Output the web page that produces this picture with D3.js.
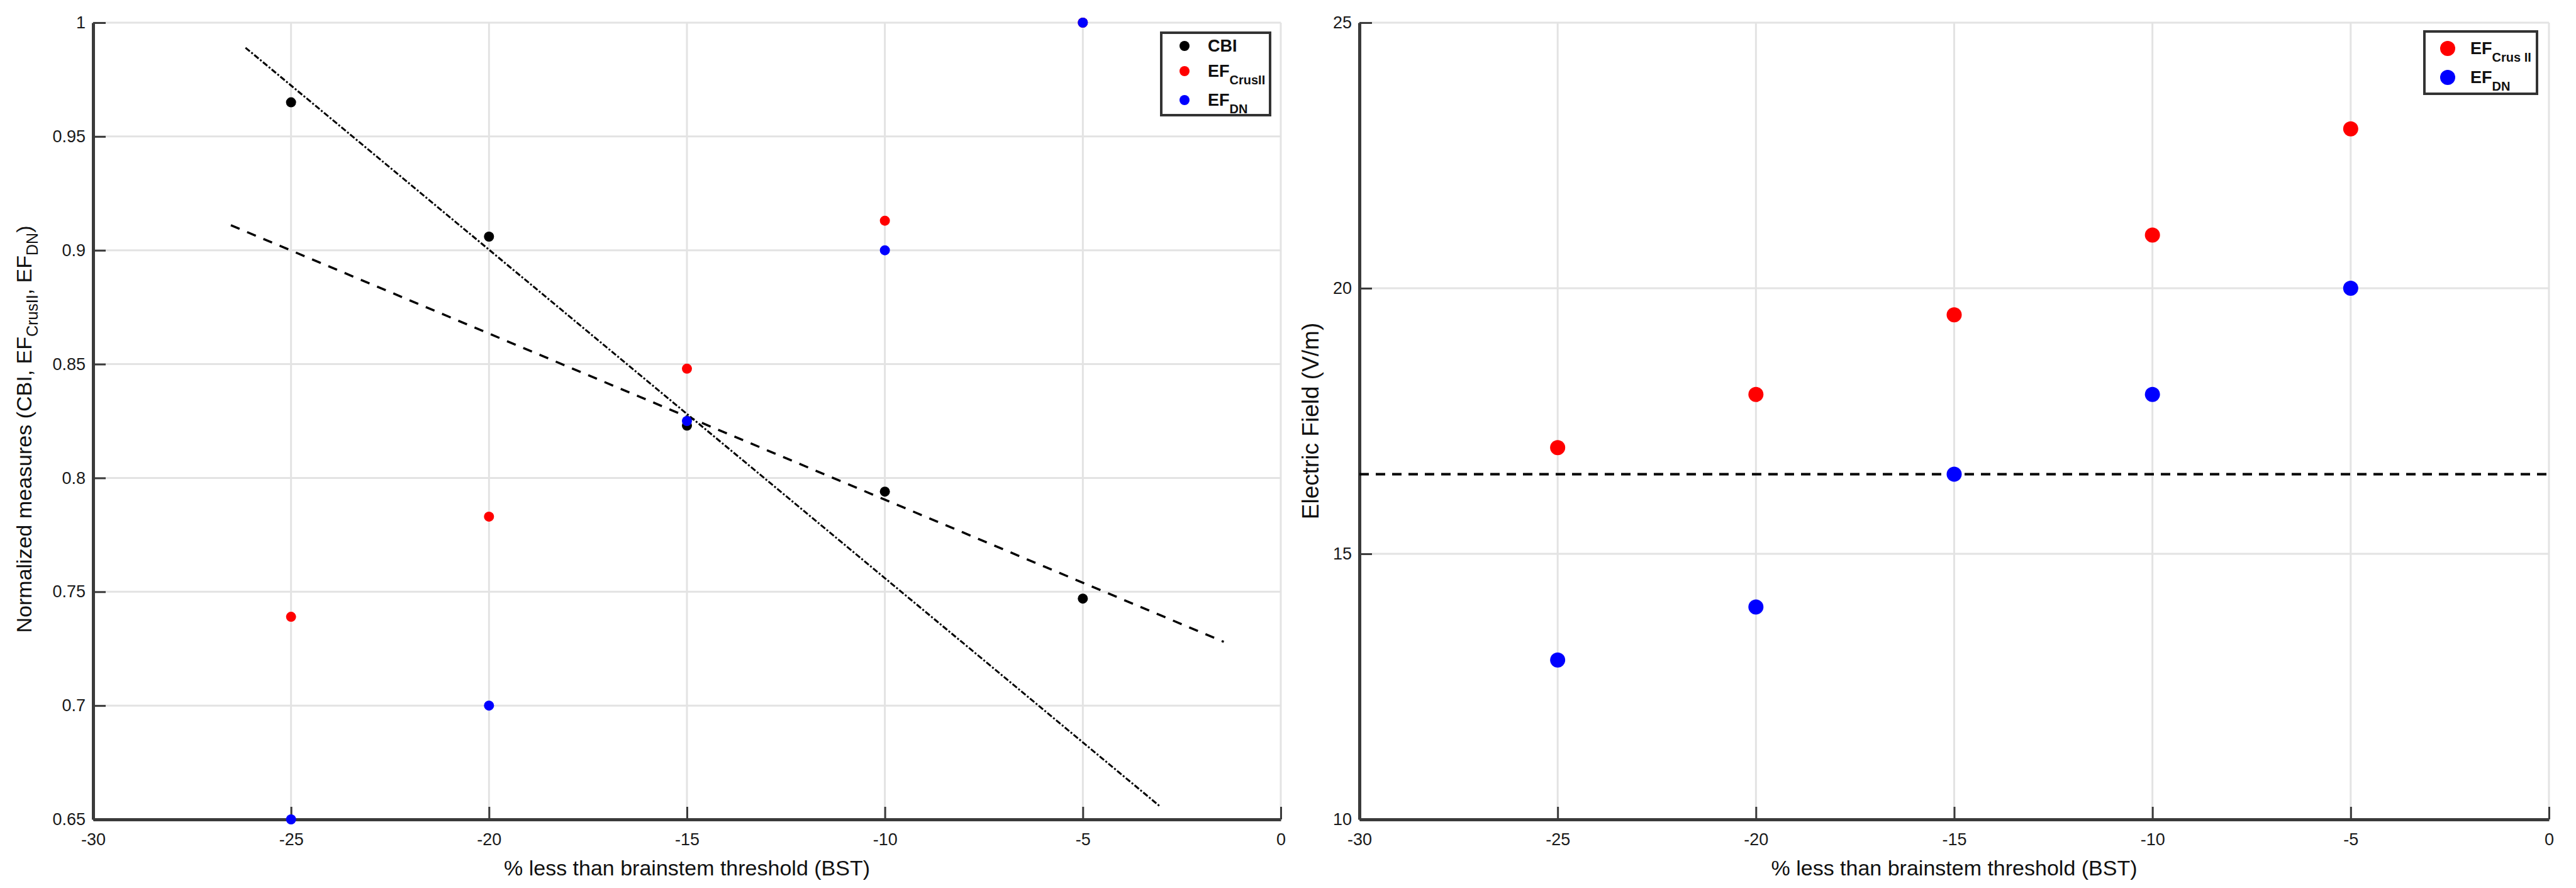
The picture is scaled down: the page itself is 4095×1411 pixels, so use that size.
<!DOCTYPE html>
<html>
<head>
<meta charset="utf-8">
<script src="https://cdn.jsdelivr.net/npm/d3@7"></script>
<style>
body { margin: 0; background: #fff; }
svg text { font-family: "Liberation Sans Narrow", "Arial Narrow", "Liberation Sans", sans-serif; }
</style>
</head>
<body>
<svg id="plotSvg" width="4095" height="1411"></svg>
<script>
// % less than brainstem threshold
var bstLevels = [-25, -20, -15, -10, -5];

// left panel (normalized)
var cbi = [0.965, 0.906, 0.823, 0.794, 0.747];
var efCrusIINorm = [0.739, 0.783, 0.848, 0.913, 1.0];
var efDNNorm = [0.65, 0.70, 0.825, 0.90, 1.0];
var fitLineX = [-26.15, -3.07];
var fitLineY = [0.989, 0.656];
var fitDashX = [-26.52, -1.44];
var fitDashY = [0.911, 0.728];

// right panel (V/m)
var efCrusII = [17, 18, 19.5, 21, 23];
var efDN = [13, 14, 16.5, 18, 20];
var thresholdX = [-30, 0];
var thresholdY = [16.5, 16.5];

var xTicks = [-30, -25, -20, -15, -10, -5, 0];
var leftYTicks = [0.65, 0.7, 0.75, 0.8, 0.85, 0.9, 0.95, 1];
var rightYTicks = [10, 15, 20, 25];

var svg = d3.select("#plotSvg");
var fmt = function (d) { return String(+d.toFixed(2)); };

function zip(xs, ys) {
    return xs.map(function (v, i) { return [v, ys[i]]; });
}

function drawPanel(p) {
    var x = d3.scaleLinear().domain([-30, 0]).range([p.left, p.right]);
    var y = d3.scaleLinear().domain(p.yDomain).range([p.bottom, p.top]);
    var g = svg.append("g");

    // grid
    g.append("g").selectAll("line")
        .data(xTicks.slice(1))
        .enter().append("line")
        .attr("x1", function (d) { return x(d); })
        .attr("x2", function (d) { return x(d); })
        .attr("y1", p.top).attr("y2", p.bottom)
        .attr("stroke", "#e3e3e3").attr("stroke-width", 3);
    g.append("g").selectAll("line")
        .data(p.yTicks.slice(1))
        .enter().append("line")
        .attr("y1", function (d) { return y(d); })
        .attr("y2", function (d) { return y(d); })
        .attr("x1", p.left).attr("x2", p.right)
        .attr("stroke", "#e3e3e3").attr("stroke-width", 3);

    var xAxis = d3.axisBottom(x).tickValues(xTicks).tickSize(-20).tickSizeOuter(0)
        .tickPadding(22).tickFormat(fmt);
    var yAxis = d3.axisLeft(y).tickValues(p.yTicks).tickSize(-20).tickSizeOuter(0)
        .tickPadding(12).tickFormat(fmt);

    var ax = [
        g.append("g").attr("transform", "translate(0," + p.bottom + ")").call(xAxis),
        g.append("g").attr("transform", "translate(" + p.left + ",0)").call(yAxis)
    ];
    ax.forEach(function (a) {
        a.select(".domain").attr("stroke", "#3a3a3a").attr("stroke-width", 5);
        a.selectAll(".tick line").attr("stroke", "#3a3a3a").attr("stroke-width", 3);
        a.selectAll(".tick text").attr("font-size", 27).attr("fill", "#1a1a1a")
            .attr("font-family", "Liberation Sans Narrow, Arial Narrow, sans-serif");
    });

    // x label
    g.append("text")
        .attr("x", (p.left + p.right) / 2)
        .attr("y", 1391)
        .attr("text-anchor", "middle")
        .attr("font-size", 34)
        .attr("fill", "#111")
        .text("% less than brainstem threshold (BST)");

    // y label
    var yl = g.append("text")
        .attr("transform", "translate(" + p.yLabelX + "," + p.yLabelY + ") rotate(-90)")
        .attr("text-anchor", "middle")
        .attr("font-size", p.yLabelSize)
        .attr("fill", "#111");
    p.yLabel.forEach(function (part) {
        yl.append("tspan")
            .attr("font-size", part.sub ? Math.round(p.yLabelSize * 0.73) : p.yLabelSize)
            .attr("dy", part.dy || 0)
            .text(part.t);
    });

    return { g: g, x: x, y: y };
}

function drawDots(panel, xs, ys, color, r) {
    panel.g.append("g").selectAll("circle")
        .data(zip(xs, ys))
        .enter().append("circle")
        .attr("cx", function (d) { return panel.x(d[0]); })
        .attr("cy", function (d) { return panel.y(d[1]); })
        .attr("r", r)
        .attr("fill", color);
}

function drawLine(panel, xs, ys, dash, width) {
    var line = d3.line()
        .x(function (d) { return panel.x(d[0]); })
        .y(function (d) { return panel.y(d[1]); });
    panel.g.append("path")
        .attr("d", line(zip(xs, ys)))
        .attr("fill", "none")
        .attr("stroke", "#000")
        .attr("stroke-width", width)
        .attr("stroke-dasharray", dash);
}

function drawLegend(box, entries, r) {
    var lg = svg.append("g");
    lg.append("rect")
        .attr("x", box.x).attr("y", box.y)
        .attr("width", box.w).attr("height", box.h)
        .attr("fill", "#fff").attr("stroke", "#333").attr("stroke-width", 4);
    entries.forEach(function (e) {
        lg.append("circle")
            .attr("cx", box.mx).attr("cy", e.cy).attr("r", r).attr("fill", e.color);
        var t = lg.append("text")
            .attr("x", box.tx).attr("y", e.cy + 9)
            .attr("font-size", 27).attr("font-weight", "bold").attr("fill", "#111");
        t.append("tspan").text(e.label);
        if (e.sub) {
            t.append("tspan").attr("font-size", 20).attr("dy", 12).text(e.sub);
        }
    });
}

// ---- left panel
var leftPanel = drawPanel({
    left: 148, right: 2036, top: 36, bottom: 1302,
    yDomain: [0.65, 1], yTicks: leftYTicks,
    yLabelX: 50, yLabelY: 682, yLabelSize: 34,
    yLabel: [
        { t: "Normalized measures (CBI, EF" },
        { t: "CrusII", sub: true, dy: 10 },
        { t: ", EF", dy: -10 },
        { t: "DN", sub: true, dy: 10 },
        { t: ")", dy: -10 }
    ]
});
drawLine(leftPanel, fitLineX, fitLineY, "9,3,3,3", 3);
drawLine(leftPanel, fitDashX, fitDashY, "15,13", 3.5);
drawDots(leftPanel, bstLevels, cbi, "#000", 8);
drawDots(leftPanel, bstLevels, efCrusIINorm, "#ff0000", 8);
drawDots(leftPanel, bstLevels, efDNNorm, "#0000ff", 8);
drawLegend({ x: 1846, y: 52, w: 173, h: 131, mx: 1883, tx: 1920 }, [
    { cy: 73, color: "#000", label: "CBI" },
    { cy: 113, color: "#ff0000", label: "EF", sub: "CrusII" },
    { cy: 159, color: "#0000ff", label: "EF", sub: "DN" }
], 8);

// ---- right panel
var rightPanel = drawPanel({
    left: 2161, right: 4052, top: 36, bottom: 1302,
    yDomain: [10, 25], yTicks: rightYTicks,
    yLabelX: 2096, yLabelY: 669, yLabelSize: 37,
    yLabel: [{ t: "Electric Field (V/m)" }]
});
drawLine(rightPanel, thresholdX, thresholdY, "15,11", 4);
drawDots(rightPanel, bstLevels, efCrusII, "#ff0000", 12);
drawDots(rightPanel, bstLevels, efDN, "#0000ff", 12);
drawLegend({ x: 3854, y: 50, w: 179, h: 99, mx: 3891, tx: 3927 }, [
    { cy: 77, color: "#ff0000", label: "EF", sub: "Crus II" },
    { cy: 123, color: "#0000ff", label: "EF", sub: "DN" }
], 12);
</script>
</body>
</html>
